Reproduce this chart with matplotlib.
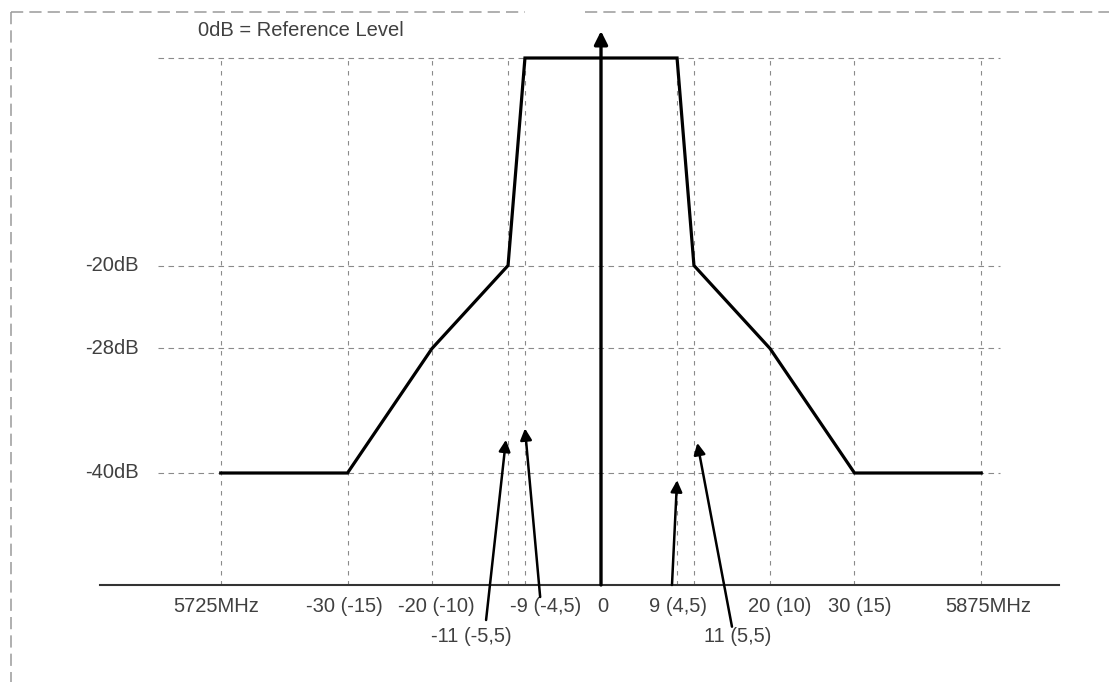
import matplotlib
matplotlib.use("Agg")
import matplotlib.pyplot as plt
from matplotlib.lines import Line2D

# ---------------- data ----------------
# spectrum mask: frequency offset (MHz, band edges drawn at +/-45) vs level (dB)
mask_freq = [-45, -30, -20, -11, -9, 9, 11, 20, 30, 45]
mask_level = [-40, -40, -28, -20, 0, 0, -20, -28, -40, -40]

grid_freq = [-45, -30, -20, -11, -9, 9, 11, 20, 30, 45]
grid_level = [0, -20, -28, -40]

level_label_values = [-20, -28, -40]
level_labels = ["-20dB", "-28dB", "-40dB"]

tick_freq = [-45, -30, -20, -9, 0, 9, 20, 30, 45]
tick_labels = ["5725MHz", "-30 (-15)", "-20 (-10)", "-9 (-4,5)", "0",
               "9 (4,5)", "20 (10)", "30 (15)", "5875MHz"]
lower_tick_freq = [-11, 11]
lower_tick_labels = ["-11 (-5,5)", "11 (5,5)"]

ref_text = "0dB = Reference Level"

# pointer arrows: frequency they point at and the level of the arrow tip
arrow_freq = [-11, -9, 9, 11]
arrow_tip_level = [-36.8, -35.7, -40.7, -37.1]

# ---------------- layout / style ----------------
W, H, DPI = 1109, 682, 100
X0, SX = 601.0, 8.45        # pixel of 0 MHz, pixels per MHz
Y0, SY = 58.0, 10.375       # pixel of 0 dB (from top), pixels per dB

xlim = (-X0 / SX, (W - X0) / SX)
ylim = ((Y0 - H) / SY, Y0 / SY)

baseline = (Y0 - 585) / SY
axis_x = ((100 - X0) / SX, (1059 - X0) / SX)
hgrid_x = ((158 - X0) / SX, (1000 - X0) / SX)
row1_y = (Y0 - 607) / SY
row2_y = (Y0 - 637) / SY
level_label_x = (139 - X0) / SX
ref_pos = ((198 - X0) / SX, (Y0 - 31) / SY)
axis_arrow_top = (Y0 - 31) / SY

tick_label_shift = [-0.5, -0.4, 0.5, 2.4, 0.2, 0.1, 1.1, 0.6, 0.8]
lower_label_shift = [-4.4, 5.2]
# arrow tails relative to their labels (MHz, dB) and tip x offsets
arrow_label_ref = [("low", 0), ("top", 3), ("top", 5), ("low", 1)]
arrow_tail_dx = [1.8, -0.6, -0.7, -0.7]
arrow_tail_y = [(Y0 - 620) / SY, (Y0 - 597) / SY, (Y0 - 585) / SY, (Y0 - 626.7) / SY]
arrow_tip_dx = [-0.25, 0.0, 0.0, 0.4]

TEXT = "#404040"
GRID = "#8a8a8a"
FONT = ["Liberation Sans", "DejaVu Sans"]
FS = 14.5

plt.rcParams["font.family"] = FONT

fig = plt.figure(figsize=(W / DPI, H / DPI), dpi=DPI)
ax = fig.add_axes([0, 0, 1, 1])
ax.set_xlim(*xlim)
ax.set_ylim(*ylim)
ax.axis("off")

# outer dashed frame
def fx(p):
    return p / W

def fy(p):
    return 1 - p / H

frame_kw = dict(color="#9a9a9a", lw=1.1, linestyle=(0, (8, 4)), transform=fig.transFigure)
fig.add_artist(Line2D([fx(11), fx(525)], [fy(12), fy(12)], **frame_kw))
fig.add_artist(Line2D([fx(585), fx(1109)], [fy(12), fy(12)], **frame_kw))
fig.add_artist(Line2D([fx(11), fx(11)], [fy(12), fy(682)], **frame_kw))

# grid
for lv in grid_level:
    ax.plot(hgrid_x, [lv, lv], color=GRID, lw=0.8, linestyle=(0, (5, 4)), zorder=1)
for f in grid_freq:
    ax.plot([f, f], [baseline, 0], color=GRID, lw=0.8, linestyle=(0, (4, 5)), zorder=1)

# baseline axis
ax.plot(axis_x, [baseline, baseline], color="#333333", lw=1.5, zorder=2)

# vertical axis arrow
ax.annotate("", xy=(0, axis_arrow_top), xytext=(0, baseline),
            arrowprops=dict(arrowstyle="-|>", color="black", lw=2.4,
                            mutation_scale=20, shrinkA=0, shrinkB=0), zorder=4)

# mask
ax.plot(mask_freq, mask_level, color="black", lw=2.3, solid_joinstyle="miter", zorder=3)

# level labels
for v, t in zip(level_label_values, level_labels):
    ax.text(level_label_x, v, t, ha="right", va="center", fontsize=FS, color=TEXT)

# reference label
ax.text(ref_pos[0], ref_pos[1], ref_text, ha="left", va="center", fontsize=FS, color=TEXT)

# tick labels
label_x_top = []
for f, t, s in zip(tick_freq, tick_labels, tick_label_shift):
    ax.text(f + s, row1_y, t, ha="center", va="center", fontsize=FS, color=TEXT)
    label_x_top.append(f + s)
label_x_low = []
for f, t, s in zip(lower_tick_freq, lower_tick_labels, lower_label_shift):
    ax.text(f + s, row2_y, t, ha="center", va="center", fontsize=FS, color=TEXT)
    label_x_low.append(f + s)

# pointer arrows
for f, tip, (row, idx), dx, ty, tdx in zip(arrow_freq, arrow_tip_level, arrow_label_ref,
                                           arrow_tail_dx, arrow_tail_y, arrow_tip_dx):
    lx = label_x_low[idx] if row == "low" else label_x_top[idx]
    ax.annotate("", xy=(f + tdx, tip), xytext=(lx + dx, ty),
                arrowprops=dict(arrowstyle="-|>", color="black", lw=1.8,
                                mutation_scale=17, shrinkA=0, shrinkB=0), zorder=4)

fig.savefig("out.png", dpi=DPI)
